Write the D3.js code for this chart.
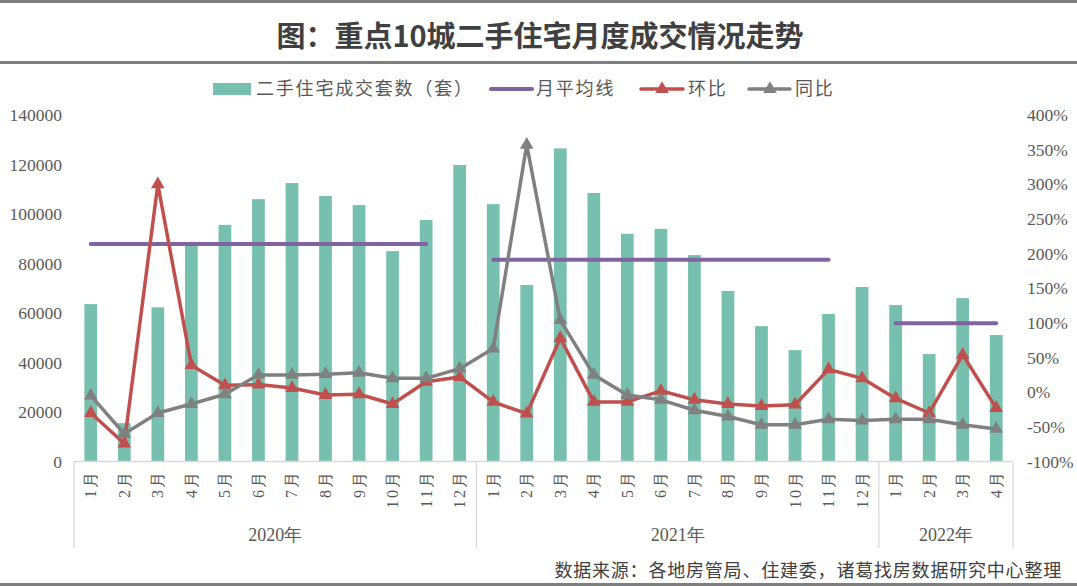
<!DOCTYPE html>
<html>
<head>
<meta charset="utf-8">
<script src="https://cdn.jsdelivr.net/npm/d3@7"></script>
<style>
  html, body { margin: 0; padding: 0; background: #fff; }
  svg { display: block; }
  .serif { font-family: "Liberation Serif", "DejaVu Serif", serif; }
  .cjk { font-family: "Noto Sans CJK SC", "Noto Sans", sans-serif; }
</style>
</head>
<body>
<svg id="chart" width="1077" height="586"></svg>
<script>
// ---------- DATA ----------
const years = ["2020年", "2021年", "2022年"];
const monthsPerYear = [12, 12, 4];
const months = [
  "1月","2月","3月","4月","5月","6月","7月","8月","9月","10月","11月","12月",
  "1月","2月","3月","4月","5月","6月","7月","8月","9月","10月","11月","12月",
  "1月","2月","3月","4月"
];
const volume = [
  63600, 15500, 62300, 87500, 95600, 106000, 112500, 107300, 103600, 85000, 97600, 119800,
  104000, 71300, 126500, 108500, 92000, 94000, 83400, 68900, 54700, 45000, 59600, 70500,
  63200, 43400, 66000, 51100
];
const monthlyAvg = [
  87900, 87900, 87900, 87900, 87900, 87900, 87900, 87900, 87900, 87900, 87900, null,
  81500, 81500, 81500, 81500, 81500, 81500, 81500, 81500, 81500, 81500, 81500, null,
  55900, 55900, 55900, 55900
];
const mom = [ // 环比 (%)
  -30, -74, 300, 39, 10, 11, 6, -4, -3, -17, 15, 22,
  -14, -31, 78, -14, -14, 2, -11, -17, -20, -18, 33, 20,
  -9, -30, 54, -23
];
const yoy = [ // 同比 (%)
  -5, -60, -30, -17, -3, 25, 25, 26, 28, 20, 20, 34,
  63, 357, 104, 25, -4, -11, -26, -35, -47, -47, -39, -41,
  -39, -39, -47, -53
];
const leftTicks = [0, 20000, 40000, 60000, 80000, 100000, 120000, 140000];
const rightTicks = [-100, -50, 0, 50, 100, 150, 200, 250, 300, 350, 400];
const title = "图：重点10城二手住宅月度成交情况走势";
const source = "数据来源：各地房管局、住建委，诸葛找房数据研究中心整理";
const legendItems = ["二手住宅成交套数（套）", "月平均线", "环比", "同比"];

// ---------- STYLE ----------
const C = { bar: "#77C0AF", avg: "#8064A2", mom: "#C0504D", yoy: "#808080", text: "#595959", axis: "#D9D9D9", rule: "#7F7F7F" };

const svg = d3.select("#chart");
const W = 1077, H = 586;
const plot = { left: 74, right: 1013, top: 115, bottom: 461.5 };

// Rules and title
svg.append("rect").attr("x", 0).attr("y", 0).attr("width", W).attr("height", 3).attr("fill", C.rule);
svg.append("rect").attr("x", 0).attr("y", 61).attr("width", W).attr("height", 3).attr("fill", C.rule);
svg.append("rect").attr("x", 0).attr("y", 583).attr("width", W).attr("height", 3).attr("fill", C.rule);
svg.append("text").attr("class", "cjk").attr("x", 540).attr("y", 47).attr("text-anchor", "middle")
  .style("font-weight", "bold").style("font-size", "29px").attr("fill", "#404040")
  .text(title);

// Scales
const idx = d3.range(months.length);
const x = d3.scaleBand().domain(idx).range([plot.left, plot.right]).padding(0);
const bw = x.bandwidth();
const cx = i => x(i) + bw / 2;
const yL = d3.scaleLinear().domain([0, 140000]).range([plot.bottom, plot.top]);
const yR = d3.scaleLinear().domain([-100, 400]).range([plot.bottom, plot.top]);

// Left axis
const axL = svg.append("g").attr("transform", `translate(${plot.left - 12},0)`)
  .call(d3.axisLeft(yL).tickValues(leftTicks).tickSize(0).tickPadding(0).tickFormat(d3.format("d")));
axL.attr("font-family", null).attr("font-size", null);
axL.select(".domain").remove();
axL.selectAll("text").attr("class", "serif").style("font-size", "17.5px").attr("fill", C.text);

// Right axis
const axR = svg.append("g").attr("transform", `translate(${plot.right + 14},0)`)
  .call(d3.axisRight(yR).tickValues(rightTicks).tickSize(0).tickPadding(0).tickFormat(d => d + "%"));
axR.attr("font-family", null).attr("font-size", null);
axR.select(".domain").remove();
axR.selectAll("text").attr("class", "serif").style("font-size", "17.5px").attr("fill", C.text);

// Bars
const barW = bw * 0.38;
svg.append("g").selectAll("rect").data(volume).join("rect")
  .attr("x", (d, i) => cx(i) - barW / 2)
  .attr("y", d => yL(d))
  .attr("width", barW)
  .attr("height", d => yL(0) - yL(d))
  .attr("fill", C.bar);

// X axis line and category frame
svg.append("line").attr("x1", plot.left).attr("x2", plot.right).attr("y1", plot.bottom).attr("y2", plot.bottom)
  .attr("stroke", C.axis).attr("stroke-width", 1.3);
let cum = 0;
const bounds = [0];
monthsPerYear.forEach(n => { cum += n; bounds.push(cum); });
bounds.forEach(b => {
  const xx = b < months.length ? x(b) : plot.right;
  svg.append("line").attr("x1", xx).attr("x2", xx).attr("y1", plot.bottom).attr("y2", 548)
    .attr("stroke", C.axis).attr("stroke-width", 1.3);
});
// Month labels (rotated)
svg.append("g").selectAll("text").data(months).join("text")
  .attr("class", "serif")
  .attr("transform", (d, i) => `translate(${cx(i) + 5.5},469) rotate(-90)`)
  .attr("text-anchor", "end")
  .style("font-size", "16px").attr("fill", C.text)
  .style("letter-spacing", "2.5px")
  .text(d => d);
// Year labels
years.forEach((yr, k) => {
  const a = x(bounds[k]);
  const b = bounds[k + 1] < months.length ? x(bounds[k + 1]) : plot.right;
  svg.append("text").attr("class", "serif").attr("x", (a + b) / 2).attr("y", 541).attr("text-anchor", "middle")
    .style("font-size", "18px").attr("fill", C.text).text(yr);
});

// Average line
const avgLine = d3.line().defined(d => d != null).x((d, i) => cx(i)).y(d => yL(d));
svg.append("path").datum(monthlyAvg).attr("d", avgLine)
  .attr("fill", "none").attr("stroke", C.avg).attr("stroke-width", 4).attr("stroke-linecap", "round");

// Pct lines
const pctLine = d3.line().x((d, i) => cx(i)).y(d => yR(d));
const tri = d3.symbol().type(d3.symbolTriangle).size(80);
function drawSeries(data, color) {
  const g = svg.append("g");
  g.append("path").datum(data).attr("d", pctLine)
    .attr("fill", "none").attr("stroke", color).attr("stroke-width", 3.5)
    .attr("stroke-linejoin", "round").attr("stroke-linecap", "round");
  g.selectAll("path.m").data(data).join("path").attr("class", "m")
    .attr("transform", (d, i) => `translate(${cx(i)},${yR(d)})`)
    .attr("d", tri).attr("fill", color);
}
drawSeries(mom, C.mom);
drawSeries(yoy, C.yoy);

// Legend
const lg = svg.append("g").attr("class", "cjk").style("font-size", "18px").attr("fill", C.text);
const ly = 89;
lg.append("rect").attr("x", 213).attr("y", ly - 6).attr("width", 38).attr("height", 12).attr("fill", C.bar);
lg.append("text").attr("x", 256).attr("y", ly + 6).style("letter-spacing", "1.8px").text(legendItems[0]);
lg.append("line").attr("x1", 491).attr("x2", 532).attr("y1", ly).attr("y2", ly)
  .attr("stroke", C.avg).attr("stroke-width", 4).attr("stroke-linecap", "round");
lg.append("text").attr("x", 536).attr("y", ly + 6).style("letter-spacing", "1.8px").text(legendItems[1]);
lg.append("line").attr("x1", 641).attr("x2", 683).attr("y1", ly).attr("y2", ly)
  .attr("stroke", C.mom).attr("stroke-width", 3.5).attr("stroke-linecap", "round");
lg.append("path").attr("transform", `translate(662,${ly})`).attr("d", tri).attr("fill", C.mom);
lg.append("text").attr("x", 688).attr("y", ly + 6).style("letter-spacing", "1.8px").text(legendItems[2]);
lg.append("line").attr("x1", 749).attr("x2", 790).attr("y1", ly).attr("y2", ly)
  .attr("stroke", C.yoy).attr("stroke-width", 3.5).attr("stroke-linecap", "round");
lg.append("path").attr("transform", `translate(770,${ly})`).attr("d", tri).attr("fill", C.yoy);
lg.append("text").attr("x", 795).attr("y", ly + 6).style("letter-spacing", "1.8px").text(legendItems[3]);

// Source
svg.append("text").attr("class", "cjk").attr("x", 1062).attr("y", 577).attr("text-anchor", "end")
  .style("font-size", "18px").style("letter-spacing", "0.8px").attr("fill", "#404040").text(source);
</script>
</body>
</html>
